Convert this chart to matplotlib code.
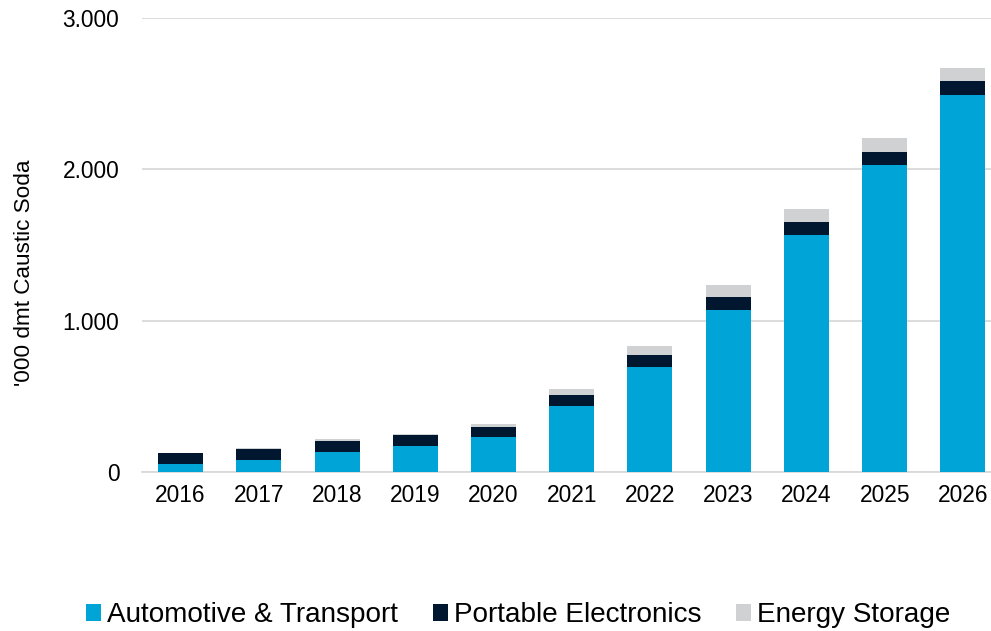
import matplotlib
matplotlib.use("Agg")
import matplotlib.pyplot as plt
import numpy as np
from matplotlib.ticker import FuncFormatter

plt.rcParams['font.family'] = ['Liberation Sans', 'DejaVu Sans']

anios = ['2016', '2017', '2018', '2019', '2020', '2021', '2022', '2023', '2024', '2025', '2026']
automotriz = [53, 82, 135, 172, 228, 434, 694, 1071, 1565, 2027, 2492]
portatiles = [71, 73, 73, 73, 72, 75, 79, 86, 85, 88, 92]
almacenamiento = [2, 4, 10, 9, 15, 37, 58, 77, 86, 91, 87]

colores = ['#00A4D6', '#00172F', '#D0D1D2']
nombres = ['Automotive & Transport', 'Portable Electronics', 'Energy Storage']

fig = plt.figure(figsize=(9.91, 6.31), dpi=100)
ax = fig.add_axes([141.5 / 991, (631 - 472) / 631, (1002 - 141.5) / 991, 454 / 631])

x = np.arange(len(anios))
ancho = 0.575
base = np.zeros(len(anios))
for serie, color, nombre in zip([automotriz, portatiles, almacenamiento], colores, nombres):
    ax.bar(x, serie, ancho, bottom=base, color=color, label=nombre, zorder=3)
    base = base + np.array(serie)

ax.set_xlim(-0.5, 10.5)
ax.set_ylim(0, 3000)
ax.set_yticks([0, 1000, 2000, 3000])
ax.yaxis.set_major_formatter(FuncFormatter(lambda v, p: f"{int(v):,}".replace(",", ".")))
ax.set_xticks(x)
ax.set_xticklabels(anios)
ax.grid(axis='y', color='#D9D9D9', linewidth=1.3, zorder=0)
for lado in ['top', 'right', 'left']:
    ax.spines[lado].set_visible(False)
ax.spines['bottom'].set_color('#D9D9D9')
ax.spines['bottom'].set_linewidth(1.3)
ax.tick_params(axis='both', length=0, labelsize=16.4, colors='black')
ax.tick_params(axis='y', pad=16)
ax.tick_params(axis='x', pad=9)

fig.text(25 / 991, 1 - 273 / 631, "'000 dmt Caustic Soda", rotation=90,
         ha='center', va='center', fontsize=16.2)

fig.legend(loc='center', bbox_to_anchor=(518 / 991, 16 / 631), ncol=3, frameon=False,
           fontsize=20.1, handlelength=0.55, handleheight=0.55, handletextpad=0.2,
           columnspacing=1.25, borderpad=0)

fig.savefig('out.png', dpi=100)
